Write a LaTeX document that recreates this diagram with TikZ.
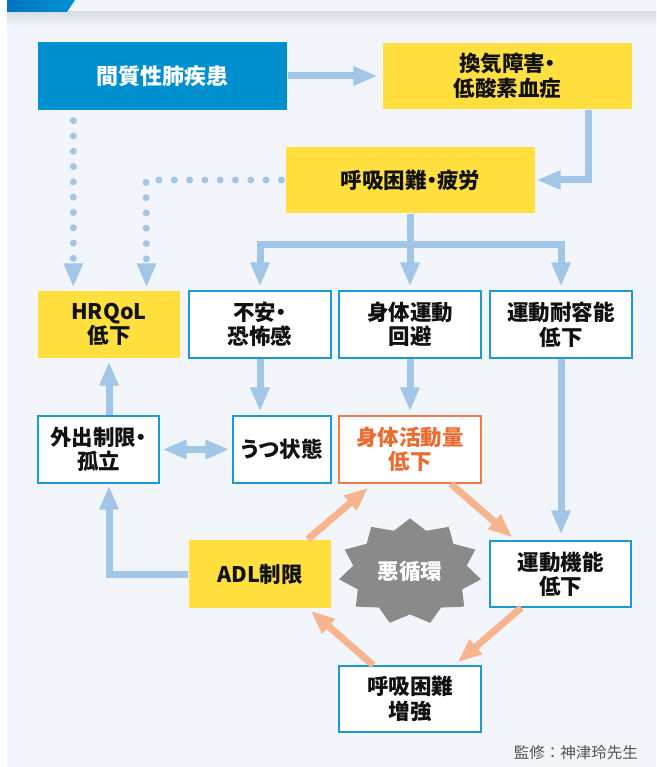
\documentclass[tikz,border=0pt]{standalone}
\usepackage{fontspec}
\setmainfont{Noto Sans CJK JP}[RawFeature=+palt]
\newfontfamily\credf{Noto Sans CJK JP}
\usetikzlibrary{arrows.meta,calc}
\definecolor{panel}{HTML}{F2F6FA}
\definecolor{shadowc}{HTML}{D6DDE3}
\definecolor{tabA}{HTML}{0074BE}
\definecolor{tabB}{HTML}{0092D4}
\definecolor{ildblue}{HTML}{0090D0}
\definecolor{yel}{HTML}{FFE03E}
\definecolor{abl}{HTML}{A2C6E8}
\definecolor{bbord}{HTML}{1C9AD6}
\definecolor{obord}{HTML}{F07A45}
\definecolor{otext}{HTML}{EE6B2F}
\definecolor{oarrc}{HTML}{F6B58E}
\definecolor{starc}{HTML}{8A8A8A}
\definecolor{txt}{HTML}{111111}
\definecolor{credc}{HTML}{555555}
\newcommand{\jpf}{\bfseries\fontsize{21.5}{24.5}\selectfont}
\begin{document}
\begin{tikzpicture}[x=1pt,y=-1pt,
  box/.style={draw=bbord, line width=1.3pt, fill=white, minimum width=142pt, minimum height=67pt,
    inner sep=0pt, align=center, font=\jpf, text=txt},
  ybox/.style={box, draw=none, fill=yel},
  obox/.style={box, draw=obord, text=otext},
  arr/.style={draw=abl, line width=7pt, line join=miter, -{Triangle[length=24pt,width=18pt]}},
  line/.style={draw=abl, line width=7pt, line join=miter},
  darr/.style={draw=abl, line width=7pt, {Triangle[length=24pt,width=18pt]}-{Triangle[length=24pt,width=18pt]}},
  dots/.style={draw=abl, line width=7pt, line cap=round, dash pattern=on 0pt off 15.3pt, -{Triangle[length=24pt,width=18pt]}},
  oarr/.style={draw=oarrc, line width=7pt, -{Triangle[length=24pt,width=18pt]}}
]
\useasboundingbox (0,0) rectangle (656,767);
% background
\fill[white] (0,0) rectangle (656,767);
\fill[panel] (7,0) rectangle (656,767);
\shade[top color=shadowc, bottom color=panel] (7,12) rectangle (656,26);
\shade[left color=tabA, right color=tabB] (7,0) -- (75,0) -- (67,12) -- (7,12) -- cycle;

% nodes
\node[box, fill=ildblue, draw=none, text=white, minimum width=249pt, minimum height=68pt, font=\bfseries\fontsize{22}{25}\selectfont] (ild) at (162.5,76) {間質性肺疾患};
\node[ybox, minimum width=249pt, minimum height=66pt] (gas) at (507.5,76) {換気障害・\\低酸素血症};
\node[ybox, minimum width=249pt, minimum height=66pt] (dysp) at (410.5,180) {呼吸困難・疲労};
\node[ybox] (hrqol) at (109,324.5) {HRQoL\\低下};
\node[box] (anx) at (260,324.5) {不安・\\恐怖感};
\node[box] (avoid) at (410,324.5) {身体運動\\回避};
\node[box] (tol) at (561,324.5) {運動耐容能\\低下};
\node[box, minimum width=121pt] (out) at (98.5,449.5) {外出制限・\\孤立};
\node[box, minimum width=98pt] (dep) at (282,449.5) {うつ状態};
\node[obox] (act) at (410,449.5) {身体活動量\\低下};
\node[ybox, minimum height=68pt] (adl) at (260,574) {ADL制限};
\node[box, minimum width=141pt, minimum height=66pt] (motor) at (560.5,574) {運動機能\\低下};
\node[box, minimum height=66pt] (dysp2) at (410,699) {呼吸困難\\増強};

% vicious circle star
\fill[starc] plot[samples at={0,...,21}, variable=\i]
  ({410+71.7*(1-0.2*mod(\i,2))*cos(90+\i*360/22)}, {571.7-53.3*(1-0.2*mod(\i,2))*sin(90+\i*360/22)}) -- cycle;
\node[font=\jpf, text=white, inner sep=0pt] (vc) at (410,571.7) {悪循環};

% credit
\node[anchor=east, font=\credf\fontsize{15.5}{18}\selectfont, text=credc, inner sep=0pt] (cred) at (638,753) {監修：神津玲先生};

% blue connectors
\draw[arr, shorten >=5pt] (ild.east) -- (gas.west);
\draw[arr, shorten >=1pt] ([xshift=-44pt]gas.south east) |- (dysp.east);
\coordinate (br) at (410.5,244);
\draw[line] (dysp.south) -- (br);
\draw[arr, shorten >=4pt] (br) -| (anx.north);
\draw[arr, shorten >=4pt] (br) -- (br -| avoid.north) -- (avoid.north);
\draw[arr, shorten >=4pt] (br) -| (tol.north);
\draw[dots, shorten >=3pt] ([xshift=36pt,yshift=-10pt]ild.south west) -- ([xshift=36pt]hrqol.north west);
\draw[dots, shorten >=3pt] ([xshift=-4pt]dysp.west) -- (dysp.west -| 146,0) -- ([xshift=-34pt]hrqol.north east);
\draw[arr, shorten >=3pt] (out.north -| hrqol.south) -- (hrqol.south);
\draw[arr, shorten >=4pt] (anx.south) -- (anx.south |- dep.north);
\draw[arr, shorten >=4pt] (avoid.south) -- (act.north);
\draw[darr, shorten >=3pt, shorten <=3pt] (out.east) -- (dep.west);
\draw[arr, shorten >=6pt] (tol.south) -- (motor.north -| tol.south);
\draw[arr, shorten >=2pt] (adl.west) -| (out.south -| hrqol.south);

% orange cycle
\draw[oarr] ([xshift=-24pt]adl.north east) -- ([xshift=30pt,yshift=-4pt]act.south west);
\draw[oarr] ([xshift=-31pt]act.south east) -- ([xshift=23pt,yshift=3pt]motor.north west);
\draw[oarr] ([xshift=32pt]motor.south west) -- ([xshift=-24pt,yshift=3pt]dysp2.north east);
\draw[oarr] ([xshift=35pt]dysp2.north west) -- ([xshift=-21pt,yshift=-2pt]adl.south east);
\end{tikzpicture}
\end{document}
